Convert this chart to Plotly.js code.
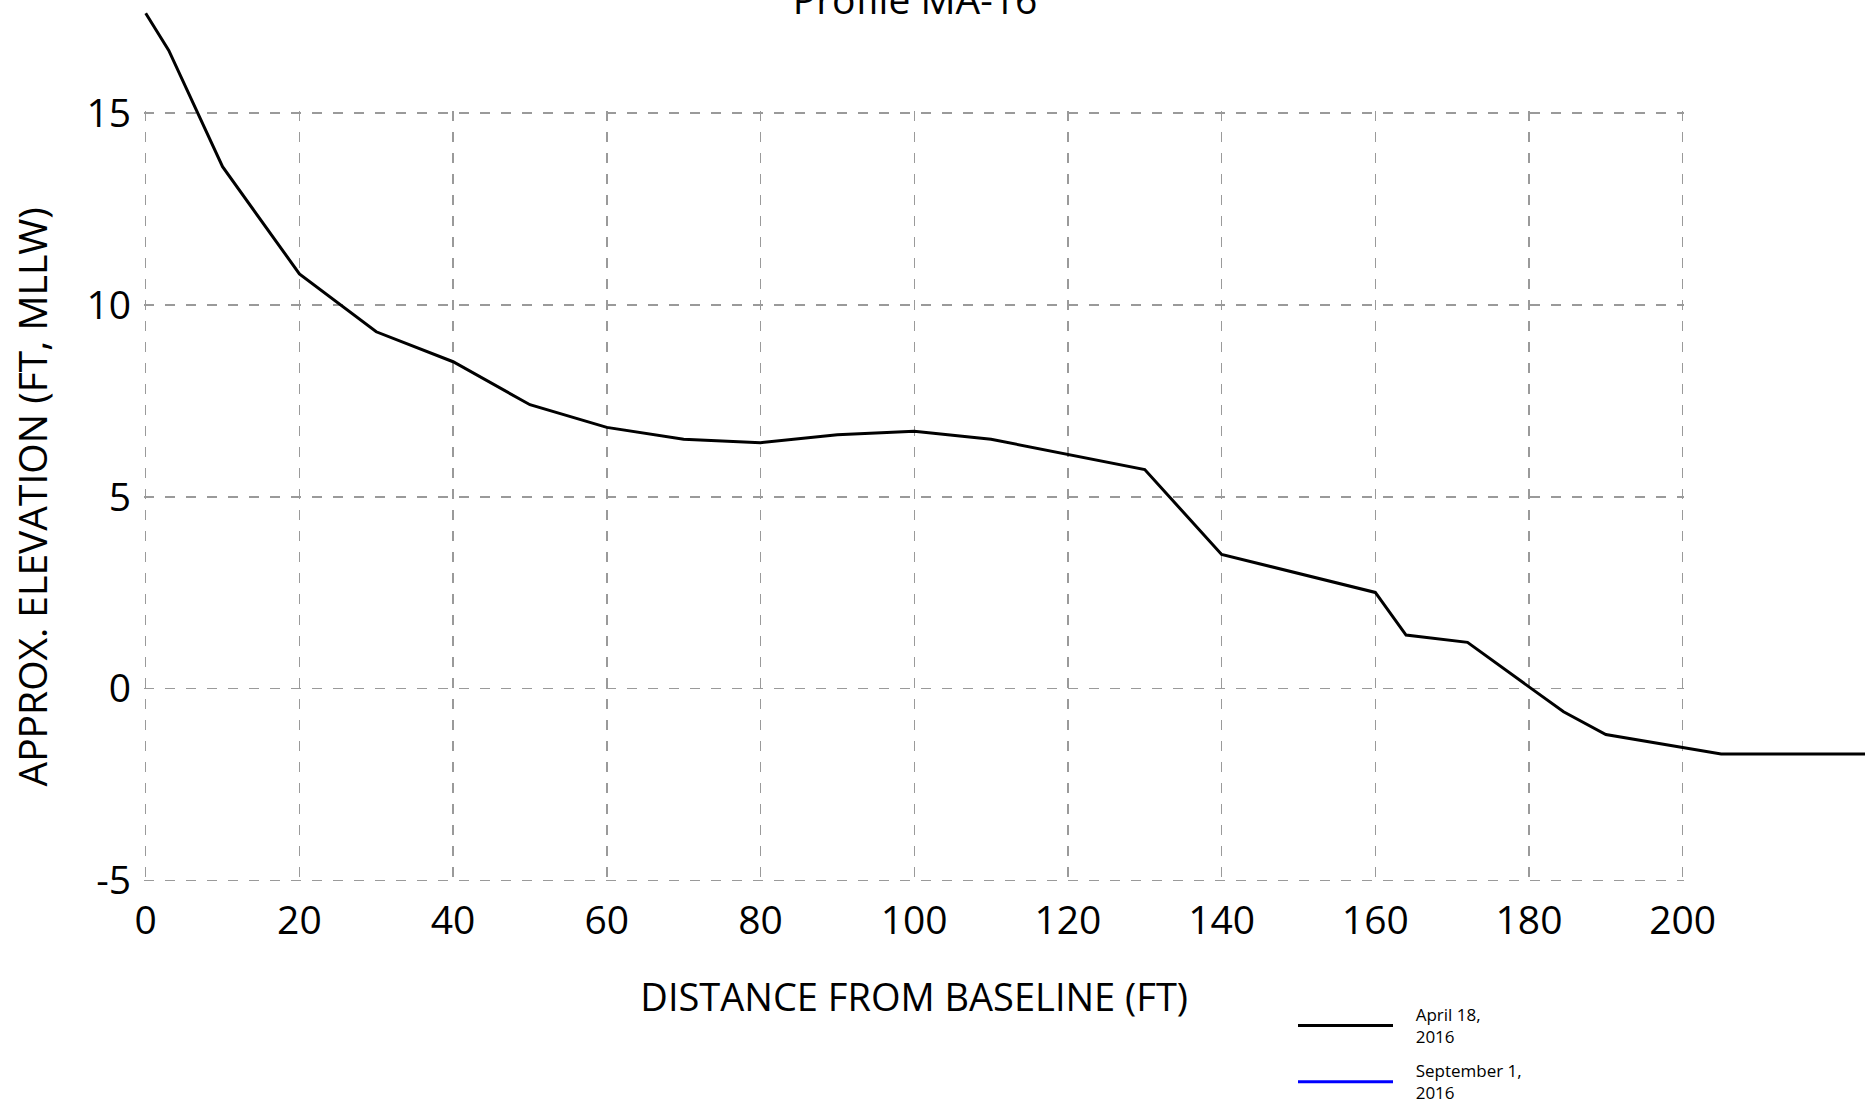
<!DOCTYPE html>
<html>
<head>
<meta charset="utf-8">
<script src="https://cdn.plot.ly/plotly-3.0.1.min.js"></script>
<style>html,body{margin:0;padding:0;background:#fff;}#chart{width:1865px;height:1102px;}</style>
</head>
<body>
<div id="chart"></div>
<script>
// Profile MA-16 survey data (distance from baseline, ft / elevation, ft MLLW)
const april_x = [0, 3, 10, 20, 30, 40, 50, 60, 70, 80, 90, 100, 110, 120, 130, 140, 160, 164, 172, 180, 184.5, 190, 205, 230];
const april_y = [17.6, 16.63, 13.6, 10.81, 9.30, 8.52, 7.40, 6.81, 6.50, 6.41, 6.62, 6.71, 6.50, 6.11, 5.71, 3.50, 2.51, 1.40, 1.21, 0.05, -0.60, -1.19, -1.70, -1.70];
const sept_x = [null];   // no September points visible in the chart
const sept_y = [null];
const seriesNames = ['April 18,', '2016', 'September 1,', '2016'];
const xTicks = [0, 20, 40, 60, 80, 100, 120, 140, 160, 180, 200];
const yTicks = [-5, 0, 5, 10, 15];
const yTickText = ['-5', '0', '5', '10', '15'];
const titleText = 'Profile MA-16';
const xTitle = 'DISTANCE FROM BASELINE (FT)';
const yTitle = 'APPROX. ELEVATION (FT, MLLW)';

const W = 1865, H = 1102;
const FONT = '"Open Sans", "Noto Sans", sans-serif';
// pixel frame of the gridded area (x 0..200, y -5..15)
const PX_X0 = 145.7, PX_PER_X = 7.685;
const PX_Y15 = 113, PX_PER_Y = 38.385;
const xMin = xTicks[0], xMax = xTicks[xTicks.length - 1];
const yMin = yTicks[0], yMax = yTicks[yTicks.length - 1];
const padX = 0.2, padY = 0.05;
const pxX = v => PX_X0 + (v - xMin) * PX_PER_X;
const pxY = v => PX_Y15 + (yMax - v) * PX_PER_Y;
const gridDomX = [pxX(xMin - padX) / W, pxX(xMax + padX) / W];
const gridDomY = [1 - pxY(yMin - padY) / H, 1 - pxY(yMax + padY) / H];
// full-page frame where the profile line is drawn (same scale, not clipped by the grid box)
const lineRangeX = [xMin - PX_X0 / PX_PER_X, xMin + (W - PX_X0) / PX_PER_X];
const lineRangeY = [yMax - (H - PX_Y15) / PX_PER_Y, yMax + PX_Y15 / PX_PER_Y];

const nb = '\u00a0\u00a0\u00a0\u00a0';
const traces = [
  {x: april_x, y: april_y, xaxis: 'x2', yaxis: 'y2', name: nb + seriesNames[0] + '<br>' + nb + seriesNames[1], type: 'scatter', mode: 'lines',
   line: {color: '#000000', width: 3}, legendgroup: 'a'},
  {x: sept_x, y: sept_y, xaxis: 'x', yaxis: 'y', name: nb + seriesNames[2] + '<br>' + nb + seriesNames[3], type: 'scatter', mode: 'lines',
   line: {color: '#0000ff', width: 3}, legendgroup: 'b', showlegend: true}
];

const gridAxis = {visible: true, showgrid: true, gridcolor: '#9a9a9a', gridwidth: 1.4, griddash: '10px,11px', zeroline: false, showline: false, ticks: '', automargin: false, fixedrange: true};

const layout = {
  width: W, height: H,
  margin: {l: 0, r: 0, t: 0, b: 0, autoexpand: false},
  paper_bgcolor: '#ffffff', plot_bgcolor: 'rgba(0,0,0,0)',
  font: {family: FONT, color: '#000000', size: 38},
  title: {text: titleText, font: {size: 39, family: FONT, color: '#000'}, x: 915 / W, xref: 'container', xanchor: 'center', y: 1, yref: 'container', yanchor: 'middle'},
  xaxis: Object.assign({}, gridAxis, {domain: gridDomX, anchor: 'y', range: [xMin - padX, xMax + padX], tickvals: xTicks, ticklabelstandoff: 11,
          tickfont: {size: 39}, title: {text: xTitle, font: {size: 38}, standoff: 40}}),
  yaxis: Object.assign({}, gridAxis, {domain: gridDomY, anchor: 'x', range: [yMin - padY, yMax + padY], tickvals: yTicks, ticktext: yTickText, ticklabelstandoff: 12,
          tickfont: {size: 39}, title: {text: yTitle, font: {size: 39}, standoff: 26}}),
  xaxis2: {domain: [0, 1], anchor: 'y2', range: lineRangeX, visible: false, fixedrange: true},
  yaxis2: {domain: [0, 1], anchor: 'x2', range: lineRangeY, visible: false, fixedrange: true},
  showlegend: true,
  legend: {xref: 'container', yref: 'container', x: 1293 / W, y: 1 - 997 / H, xanchor: 'left', yanchor: 'top',
           font: {size: 17, family: FONT, color: '#000'}, itemwidth: 95, tracegroupgap: 9, bgcolor: 'rgba(0,0,0,0)', orientation: 'v'}
};

Plotly.newPlot('chart', traces, layout, {staticPlot: true, displayModeBar: false});
</script>
</body>
</html>
